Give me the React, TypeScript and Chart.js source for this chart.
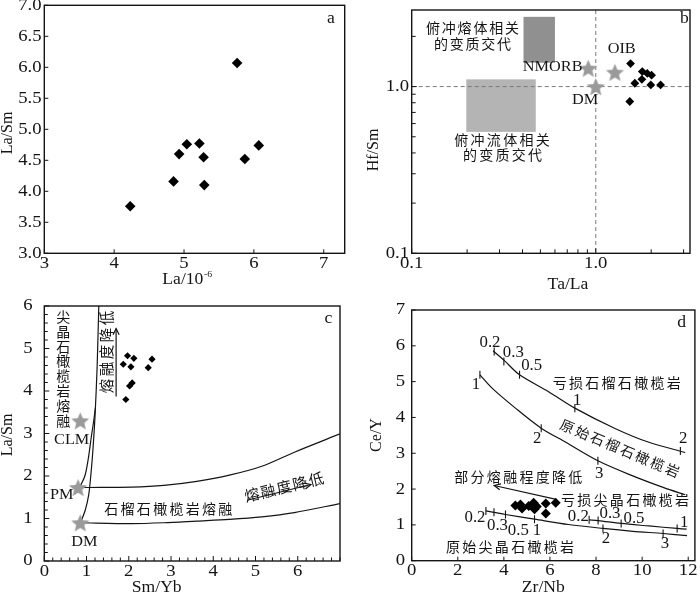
import React, { useEffect, useRef } from "react";
import { Chart, registerables } from "chart.js";

Chart.register(...registerables);

const SERIF = '"Liberation Serif", "Times New Roman", "DejaVu Serif", serif';
const CJK = '"Noto Sans CJK SC", "Noto Sans CJK JP", sans-serif';
const INK = "#141414";
const STAR_GRAY = "#9a9a9a";
const SX = 1.1;

// ---------------- Panel a ----------------
const aLa = [4.23, 4.85, 4.93, 5.04, 5.22, 5.28, 5.29, 5.76, 5.87, 6.07];
const aLaSm = [3.76, 4.16, 4.6, 4.76, 4.77, 4.55, 4.1, 6.07, 4.52, 4.74];
const aXTickValues = [3, 4, 5, 6, 7];
const aXTickLabels = ["3", "4", "5", "6", "7"];
const aYTickValues = [3, 3.5, 4, 4.5, 5, 5.5, 6, 6.5, 7];
const aYTickLabels = ["3.0", "3.5", "4.0", "4.5", "5.0", "5.5", "6.0", "6.5", "7.0"];

// ---------------- Panel b ----------------
const bTaLa = [1.545, 1.79, 1.905, 2.01, 1.78, 1.63, 1.99, 2.25, 1.53];
const bHfSm = [1.375, 1.23, 1.2, 1.17, 1.105, 1.047, 1.023, 1.023, 0.814];
const bRefNames = ["NMORB", "DM", "OIB"];
const bRefTaLa = [0.91, 1.0, 1.27];
const bRefHfSm = [1.29, 1.0, 1.22];
const bMeltBoxX = [0.405, 0.6];
const bMeltBoxY = [1.39, 2.62];
const bFluidBoxX = [0.198, 0.472];
const bFluidBoxY = [0.535, 1.105];
const bLogTickValues = [0.1, 0.2, 0.3, 0.4, 0.5, 0.6, 0.7, 0.8, 0.9, 1, 2, 3];
const bXTickLabels: Record<string, string> = { "0.1": "0.1", "1": "1.0" };
const bYTickLabels: Record<string, string> = { "0.1": "0.1", "1": "1.0" };

// ---------------- Panel c ----------------
const cSmYb = [1.97, 2.12, 1.87, 2.05, 2.55, 2.46, 2.08, 2.02, 1.93];
const cLaSm = [4.83, 4.77, 4.63, 4.57, 4.75, 4.55, 4.19, 4.12, 3.8];
const cRefNames = ["CLM", "PM", "DM"];
const cRefSmYb = [0.85, 0.8, 0.85];
const cRefLaSm = [3.3, 1.73, 0.9];
const cGrtPMx = [0.8, 1.06, 2.06, 2.83, 3.61, 4.38, 5.15, 5.92, 7.0];
const cGrtPMy = [1.73, 1.73, 1.74, 1.78, 1.875, 2.02, 2.23, 2.56, 2.99];
const cGrtDMx = [0.85, 2.06, 2.83, 3.61, 4.38, 5.15, 5.92, 7.0];
const cGrtDMy = [0.9, 0.88, 0.9, 0.94, 0.98, 1.04, 1.14, 1.35];
const cSpDMx = [0.85, 0.97, 1.05, 1.1, 1.15, 1.2, 1.25, 1.29];
const cSpDMy = [0.88, 1.2, 1.55, 2.0, 2.6, 3.4, 4.55, 6.0];
const cSpPMx = [0.82, 0.96, 1.04, 1.11, 1.17, 1.21];
const cSpPMy = [1.7, 2.0, 2.4, 2.9, 3.3, 3.6];
const cMajorValues = [0, 1, 2, 3, 4, 5, 6];
const cMajorLabels = ["0", "1", "2", "3", "4", "5", "6"];
const cArrowUp = { x: [1.7, 1.7], y: [3.87, 5.47] };
const cArrowRight = { x: [4.8, 6.31], y: [1.43, 1.8] };

// ---------------- Panel d ----------------
const dZrNb = [4.5, 4.72, 4.79, 5.08, 5.29, 5.33, 5.43, 5.82, 5.82, 6.25];
const dCeY = [1.54, 1.57, 1.46, 1.53, 1.62, 1.44, 1.51, 1.6, 1.32, 1.62];
const dDepGrtX = [3.53, 4.0, 4.68, 5.94, 7.08, 8.8, 10.23, 11.87];
const dDepGrtY = [5.86, 5.6, 5.19, 4.72, 4.26, 3.7, 3.32, 3.02];
const dDepGrtTickX = [3.58, 4.0, 4.68, 7.08, 11.66];
const dDepGrtTickY = [5.84, 5.56, 5.19, 4.26, 3.06];
const dDepGrtTickLabels = ["0.2", "0.3", "0.5", "1", "2"];
const dPrimGrtX = [2.96, 3.5, 4.5, 5.62, 6.65, 8.08, 9.51, 10.94, 11.87];
const dPrimGrtY = [5.19, 4.81, 4.26, 3.7, 3.32, 2.79, 2.39, 2.04, 1.84];
const dPrimGrtTickX = [2.96, 5.62, 8.08];
const dPrimGrtTickY = [5.19, 3.7, 2.79];
const dPrimGrtTickLabels = ["1", "2", "3"];
const dDepSpX = [7.7, 8.09, 9.09, 10.3, 11.52, 11.93];
const dDepSpY = [1.14, 1.12, 1.04, 0.97, 0.9, 0.88];
const dDepSpTickX = [7.7, 8.09, 9.09, 11.52];
const dDepSpTickY = [1.14, 1.12, 1.04, 0.9];
const dDepSpTickLabels = ["0.2", "0.3", "0.5", "1"];
const dPrimSpX = [3.22, 3.57, 4.07, 5.33, 6.8, 8.3, 9.6, 10.91, 11.95];
const dPrimSpY = [1.39, 1.35, 1.29, 1.16, 1.01, 0.9, 0.82, 0.76, 0.7];
const dPrimSpTickX = [3.22, 3.57, 4.07, 5.33, 8.3, 10.91];
const dPrimSpTickY = [1.39, 1.35, 1.29, 1.16, 0.9, 0.76];
const dPrimSpTickLabels = ["0.2", "0.3", "0.5", "1", "2", "3"];
const dXTickValues = [0, 2, 4, 6, 8, 10, 12];
const dXTickLabels = ["0", "2", "4", "6", "8", "10", "12"];
const dYTickValues = [0, 1, 2, 3, 4, 5, 6, 7];
const dYTickLabels = ["0", "1", "2", "3", "4", "5", "6", "7"];
const dArrow = { x: [6.22, 3.58], y: [1.72, 2.1] };

// ---------------- layout (page pixels) ----------------
const LAYOUT = [
  { ox: 0, oy: 0, w: 350, h: 296, l: 44.3, t: 4, r: 347.7, b: 253.3 },
  { ox: 350, oy: 0, w: 350, h: 296, l: 411.7, t: 4, r: 697.7, b: 253.3 },
  { ox: 0, oy: 296, w: 350, h: 297, l: 44.3, t: 305, r: 347.7, b: 561 },
  { ox: 350, oy: 296, w: 350, h: 297, l: 411.7, t: 310, r: 697.7, b: 560.7 },
];

type Tick = { v: number; len: number; label?: string };

function txt(ctx: CanvasRenderingContext2D, s: string, x: number, y: number, o: any = {}) {
  const { size = 16, font = SERIF, align = "center", rot = 0, sx = SX, ls = 0, color = INK } = o;
  ctx.save();
  ctx.translate(x, y);
  ctx.scale(sx, 1);
  if (rot) ctx.rotate((rot * Math.PI) / 180);
  ctx.font = `${size}px ${font}`;
  (ctx as any).letterSpacing = `${ls}px`;
  ctx.textAlign = align;
  ctx.textBaseline = "middle";
  ctx.fillStyle = color;
  ctx.fillText(s, align === "center" ? ls / 2 : 0, 0);
  ctx.restore();
}

function cjk(ctx: CanvasRenderingContext2D, s: string, x: number, y: number, o: any = {}) {
  txt(ctx, s, x, y, { font: CJK, size: 14, sx: 1, ls: 2.3, ...o });
}

function titleSup(ctx: CanvasRenderingContext2D, base: string, sup: string, cx: number, cy: number) {
  ctx.save();
  ctx.font = `16px ${SERIF}`;
  const w1 = ctx.measureText(base).width * SX;
  ctx.font = `9px ${SERIF}`;
  const w2 = ctx.measureText(sup).width * SX;
  ctx.restore();
  const x0 = cx - (w1 + w2) / 2;
  txt(ctx, base, x0, cy, { align: "left", size: 16 });
  txt(ctx, sup, x0 + w1 + 0.5, cy - 5, { align: "left", size: 9 });
}

function arrow(ctx: CanvasRenderingContext2D, x1: number, y1: number, x2: number, y2: number, head = 7) {
  ctx.save();
  ctx.strokeStyle = INK;
  ctx.lineWidth = 1.2;
  ctx.beginPath();
  ctx.moveTo(x1, y1);
  ctx.lineTo(x2, y2);
  ctx.stroke();
  const a = Math.atan2(y2 - y1, x2 - x1);
  ctx.beginPath();
  ctx.moveTo(x2 - head * Math.cos(a - 0.45), y2 - head * Math.sin(a - 0.45));
  ctx.lineTo(x2, y2);
  ctx.lineTo(x2 - head * Math.cos(a + 0.45), y2 - head * Math.sin(a + 0.45));
  ctx.stroke();
  ctx.restore();
}

function starImage(r: number, color: string) {
  const c = document.createElement("canvas");
  const s = Math.ceil(r * 2 + 2);
  c.width = s;
  c.height = s;
  const g = c.getContext("2d")!;
  g.translate(s / 2, s / 2 + r * 0.1);
  g.beginPath();
  for (let i = 0; i < 10; i++) {
    const rr = i % 2 === 0 ? r : r * 0.45;
    const a = -Math.PI / 2 + (i * Math.PI) / 5;
    g.lineTo(rr * Math.cos(a), rr * Math.sin(a));
  }
  g.closePath();
  g.fillStyle = color;
  g.fill();
  return c;
}

const pts = (xs: number[], ys: number[]) => xs.map((x, i) => ({ x, y: ys[i] }));
const diamonds = (xs: number[], ys: number[], r: number) => ({
  data: pts(xs, ys), showLine: false, pointStyle: "rectRot", pointRadius: r,
  pointBackgroundColor: "#000", pointBorderColor: "#000", pointBorderWidth: 0,
});
const curve = (xs: number[], ys: number[]) => ({
  data: pts(xs, ys), showLine: true, pointRadius: 0, borderColor: INK, borderWidth: 1.2,
  tension: 0.3, fill: false,
});
const stars = (xs: number[], ys: number[], img: any) => ({
  data: pts(xs, ys), showLine: false, pointStyle: img, pointRadius: 9,
});
const marks = (xs: number[], ys: number[]) => ({
  data: pts(xs, ys), showLine: false, pointStyle: "line", pointRotation: 90, pointRadius: 4,
  pointBorderColor: INK, pointBorderWidth: 1.1,
});

function makePanels() {
  const star = starImage(9.5, STAR_GRAY);

  const tickSet = (vals: number[], labels: (string | undefined)[], len: number): Tick[] =>
    vals.map((v, i) => ({ v, len, label: labels[i] }));

  const cX: Tick[] = [];
  for (let i = 0; i <= 35; i++) {
    const v = i * 0.2;
    const mi = cMajorValues.indexOf(Math.round(v * 10) / 10);
    cX.push({ v, len: mi >= 0 ? 5 : 3.5, label: mi >= 0 ? cMajorLabels[mi] : undefined });
  }
  const cY: Tick[] = [];
  for (let i = 0; i <= 30; i++) {
    const v = i * 0.2;
    const mi = cMajorValues.indexOf(Math.round(v * 10) / 10);
    cY.push({ v, len: mi >= 0 ? 5 : 3.5, label: mi >= 0 ? cMajorLabels[mi] : undefined });
  }

  const panels = [
    {
      ...LAYOUT[0], xType: "linear", yType: "linear", xMin: 3, xMax: 7.3, yMin: 3, yMax: 7,
      xTicks: tickSet(aXTickValues, aXTickLabels, 4),
      yTicks: tickSet(aYTickValues, aYTickLabels, 4),
      xLabelY: 263.5, yLabelX: 41.5,
      datasets: [diamonds(aLa, aLaSm, 5.3)],
      over: (ctx: any, xs: any, ys: any, P: any) => {
        txt(ctx, "a", ...P(331, 19), { size: 16 });
        txt(ctx, "La/Sm", ...P(7.5, 133), { rot: -90, size: 16 });
        const [cx, cy] = P(187, 280);
        titleSup(ctx, "La/10", "-6", cx, cy);
      },
    },
    {
      ...LAYOUT[1], xType: "logarithmic", yType: "logarithmic", xMin: 0.1, xMax: 3.25, yMin: 0.1, yMax: 2.88,
      xTicks: bLogTickValues.map((v) => ({ v, len: bXTickLabels[String(v)] ? 5 : 4, label: bXTickLabels[String(v)] })),
      yTicks: bLogTickValues.filter((v) => v <= 2).map((v) => ({ v, len: bYTickLabels[String(v)] ? 5 : 4, label: bYTickLabels[String(v)] })),
      xLabelY: 263.5, yLabelX: 409,
      datasets: [stars(bRefTaLa, bRefHfSm, star), diamonds(bTaLa, bHfSm, 4.4)],
      under: (ctx: any, xs: any, ys: any) => {
        const rect = (bx: number[], by: number[], col: string) => {
          const x0 = xs.getPixelForValue(bx[0]), x1 = xs.getPixelForValue(bx[1]);
          const y0 = ys.getPixelForValue(by[0]), y1 = ys.getPixelForValue(by[1]);
          ctx.fillStyle = col;
          ctx.fillRect(x0, y1, x1 - x0, y0 - y1);
        };
        rect(bMeltBoxX, bMeltBoxY, "#909090");
        rect(bFluidBoxX, bFluidBoxY, "#b4b4b4");
        ctx.save();
        ctx.strokeStyle = "#7a7a7a";
        ctx.lineWidth = 1;
        ctx.setLineDash([4, 3]);
        const x1 = xs.getPixelForValue(1), y1 = ys.getPixelForValue(1);
        ctx.beginPath();
        ctx.moveTo(x1, ys.top); ctx.lineTo(x1, ys.bottom);
        ctx.moveTo(xs.left, y1); ctx.lineTo(xs.right, y1);
        ctx.stroke();
        ctx.restore();
      },
      over: (ctx: any, xs: any, ys: any, P: any) => {
        txt(ctx, "b", ...P(684.3, 18.5), { size: 16 });
        cjk(ctx, "俯冲熔体相关", ...P(472.5, 27.7), { ls: 1.8 });
        cjk(ctx, "的变质交代", ...P(472.5, 43.3), { ls: 1.8 });
        cjk(ctx, "俯冲流体相关", ...P(502, 140));
        cjk(ctx, "的变质交代", ...P(502.5, 155));
        txt(ctx, bRefNames[0], ...P(552.7, 66.7), { size: 15.5, sx: 1.05 });
        txt(ctx, bRefNames[1], ...P(585, 99.5), { size: 15.5, sx: 1.05 });
        txt(ctx, bRefNames[2], ...P(621.7, 49.3), { size: 15.5, sx: 1.05 });
        txt(ctx, "Hf/Sm", ...P(373, 150), { rot: -90, size: 16 });
        txt(ctx, "Ta/La", ...P(568, 285), { size: 16 });
      },
    },
    {
      ...LAYOUT[2], xType: "linear", yType: "linear", xMin: 0, xMax: 7, yMin: 0, yMax: 6,
      xTicks: cX, yTicks: cY,
      xLabelY: 572, yLabelX: 32.5,
      datasets: [
        stars(cRefSmYb, cRefLaSm, star),
        diamonds(cSmYb, cLaSm, 3.6),
        curve(cGrtPMx, cGrtPMy),
        curve(cGrtDMx, cGrtDMy),
        curve(cSpDMx, cSpDMy),
        curve(cSpPMx, cSpPMy),
      ],
      over: (ctx: any, xs: any, ys: any, P: any) => {
        txt(ctx, "c", ...P(328.3, 318.3), { size: 16 });
        [..."尖晶石橄榄岩熔融"].forEach((ch, i) => cjk(ctx, ch, ...P(63.3, 316.7 + i * 14.8), { ls: 0 }));
        cjk(ctx, "熔融度降低", ...P(106.5, 352), { rot: -90, size: 14.5, ls: 2.5 });
        arrow(ctx, xs.getPixelForValue(cArrowUp.x[0]), ys.getPixelForValue(cArrowUp.y[0]),
          xs.getPixelForValue(cArrowUp.x[1]), ys.getPixelForValue(cArrowUp.y[1]));
        cjk(ctx, "熔融度降低", ...P(284, 487), { rot: -13.5, size: 15, ls: 1.5 });
        arrow(ctx, xs.getPixelForValue(cArrowRight.x[0]), ys.getPixelForValue(cArrowRight.y[0]),
          xs.getPixelForValue(cArrowRight.x[1]), ys.getPixelForValue(cArrowRight.y[1]));
        cjk(ctx, "石榴石橄榄岩熔融", ...P(168.3, 508.3));
        txt(ctx, cRefNames[0], ...P(71.7, 440), { size: 15.5, sx: 1.05 });
        txt(ctx, cRefNames[1], ...P(61.7, 495), { size: 15.5, sx: 1.05 });
        txt(ctx, cRefNames[2], ...P(84.3, 541.7), { size: 15.5, sx: 1.05 });
        txt(ctx, "La/Sm", ...P(7.5, 435), { rot: -90, size: 16 });
        txt(ctx, "Sm/Yb", ...P(156.7, 587.5), { size: 16 });
      },
    },
    {
      ...LAYOUT[3], xType: "linear", yType: "linear", xMin: 0, xMax: 12.29, yMin: 0, yMax: 7,
      xTicks: tickSet(dXTickValues, dXTickLabels, 4),
      yTicks: tickSet(dYTickValues, dYTickLabels, 4),
      xLabelY: 570.5, yLabelX: 405,
      datasets: [
        diamonds(dZrNb, dCeY, 5),
        marks(dDepGrtTickX, dDepGrtTickY),
        marks(dPrimGrtTickX, dPrimGrtTickY),
        marks(dDepSpTickX, dDepSpTickY),
        marks(dPrimSpTickX, dPrimSpTickY),
        curve(dDepGrtX, dDepGrtY),
        curve(dPrimGrtX, dPrimGrtY),
        curve(dDepSpX, dDepSpY),
        curve(dPrimSpX, dPrimSpY),
      ],
      over: (ctx: any, xs: any, ys: any, P: any) => {
        txt(ctx, "d", ...P(681.7, 322.3), { size: 16 });
        const lab = (labels: string[], pos: number[][]) =>
          labels.forEach((s, i) => txt(ctx, s, ...P(pos[i][0], pos[i][1]), { size: 16, sx: 1.05 }));
        lab(dDepGrtTickLabels, [[490, 342.3], [513.3, 352.3], [531.7, 365.7], [577.3, 401], [683.3, 439]]);
        lab(dPrimGrtTickLabels, [[476, 384.3], [537.3, 439], [599.3, 473.3]]);
        lab(dDepSpTickLabels, [[578.3, 516.7], [610, 513.3], [634, 518.3], [684.3, 522.7]]);
        lab(dPrimSpTickLabels, [[475, 518], [497.5, 525.7], [518.3, 531], [537, 531], [606, 538.3], [665, 543.3]]);
        cjk(ctx, "亏损石榴石橄榄岩", ...P(616.7, 382.3));
        cjk(ctx, "原始石榴石橄榄岩", ...P(620, 448.3), { rot: 22.7 });
        cjk(ctx, "部分熔融程度降低", ...P(518.3, 476.7));
        cjk(ctx, "亏损尖晶石橄榄岩", ...P(625, 500));
        cjk(ctx, "原始尖晶石橄榄岩", ...P(510, 546.5));
        arrow(ctx, xs.getPixelForValue(dArrow.x[0]), ys.getPixelForValue(dArrow.y[0]),
          xs.getPixelForValue(dArrow.x[1]), ys.getPixelForValue(dArrow.y[1]));
        txt(ctx, "Ce/Y", ...P(376.7, 435), { rot: -90, size: 16 });
        txt(ctx, "Zr/Nb", ...P(543.3, 587.5), { size: 16 });
      },
    },
  ];
  return panels;
}

function config(p: any) {
  const P = (x: number, y: number) => [x - p.ox, y - p.oy];
  return {
    type: "scatter",
    data: { datasets: p.datasets },
    options: {
      responsive: false,
      animation: false,
      devicePixelRatio: 1,
      events: [],
      layout: { padding: { left: 0, top: p.t - p.oy, right: p.ox + p.w - p.r, bottom: 0 } },
      plugins: { legend: { display: false }, tooltip: { enabled: false } },
      scales: {
        x: {
          type: p.xType, min: p.xMin, max: p.xMax, position: "bottom",
          ticks: { display: false }, grid: { display: false }, border: { display: false },
          afterFit: (s: any) => { s.height = p.oy + p.h - p.b; },
        },
        y: {
          type: p.yType, min: p.yMin, max: p.yMax, position: "left",
          ticks: { display: false }, grid: { display: false }, border: { display: false },
          afterFit: (s: any) => { s.width = p.l - p.ox; },
        },
      },
    },
    plugins: [
      {
        id: "deco",
        beforeDatasetsDraw(chart: any) {
          const ctx = chart.ctx;
          ctx.save();
          p.under && p.under(ctx, chart.scales.x, chart.scales.y, P);
          ctx.restore();
        },
        afterDatasetsDraw(chart: any) {
          const ctx = chart.ctx;
          const xs = chart.scales.x, ys = chart.scales.y;
          const { left, top, right, bottom } = chart.chartArea;
          ctx.save();
          ctx.strokeStyle = INK;
          ctx.lineWidth = 1.4;
          ctx.strokeRect(left, top, right - left, bottom - top);
          ctx.lineWidth = 1;
          for (const t of p.xTicks as Tick[]) {
            const x = xs.getPixelForValue(t.v);
            ctx.beginPath();
            ctx.moveTo(x, bottom);
            ctx.lineTo(x, bottom - t.len);
            ctx.stroke();
            if (t.label) txt(ctx, t.label, x, p.xLabelY - p.oy, { size: 17 });
          }
          for (const t of p.yTicks as Tick[]) {
            const y = ys.getPixelForValue(t.v);
            ctx.beginPath();
            ctx.moveTo(left, y);
            ctx.lineTo(left + t.len, y);
            ctx.stroke();
            if (t.label) txt(ctx, t.label, p.yLabelX - p.ox, y, { size: 17, align: "right" });
          }
          ctx.restore();
          ctx.save();
          p.over && p.over(ctx, xs, ys, P);
          ctx.restore();
        },
      },
    ],
  };
}

export default function App() {
  const r0 = useRef<HTMLCanvasElement>(null);
  const r1 = useRef<HTMLCanvasElement>(null);
  const r2 = useRef<HTMLCanvasElement>(null);
  const r3 = useRef<HTMLCanvasElement>(null);
  const refs = [r0, r1, r2, r3];

  useEffect(() => {
    const panels = makePanels();
    const charts = panels.map((p, i) => new Chart(refs[i].current as any, config(p) as any));
    let alive = true;
    const fonts = (document as any).fonts;
    if (fonts && fonts.load) {
      Promise.all([
        fonts.load(`16px "Liberation Serif"`),
        fonts.load(`14px "Noto Sans CJK SC"`, "俯冲熔体"),
      ]).then(() => { if (alive) charts.forEach((c) => c.draw()); }).catch(() => {});
    }
    return () => {
      alive = false;
      charts.forEach((c) => c.destroy());
    };
  }, []);

  return (
    <div style={{ position: "fixed", left: 0, top: 0, width: 700, height: 593, background: "#fff", overflow: "hidden" }}>
      {LAYOUT.map((L, i) => (
        <canvas
          key={i}
          ref={refs[i]}
          width={L.w}
          height={L.h}
          style={{ position: "absolute", left: L.ox, top: L.oy, width: L.w, height: L.h }}
        />
      ))}
    </div>
  );
}
